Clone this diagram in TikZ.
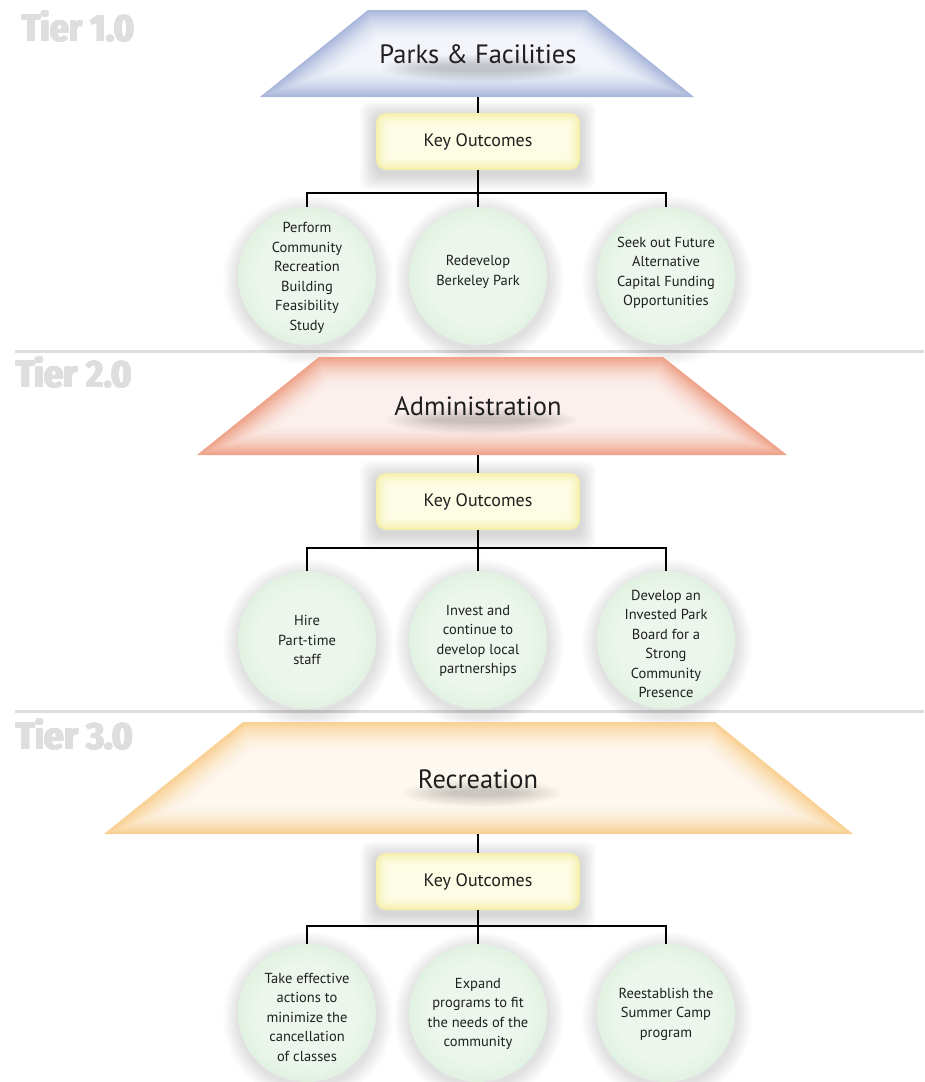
\documentclass[tikz,border=0pt]{standalone}
\usepackage{fontspec}
\usepackage{graphicx}
\setmainfont{PT Sans}
\newfontfamily\tierfont{Fira Sans}

\definecolor{t1edge}{RGB}{170,184,220}
\definecolor{t1mid}{RGB}{243,245,251}
\definecolor{t2edge}{RGB}{239,163,138}
\definecolor{t2mid}{RGB}{251,240,237}
\definecolor{t3edge}{RGB}{249,209,148}
\definecolor{t3mid}{RGB}{253,248,240}
\definecolor{keyedge}{RGB}{244,239,172}
\definecolor{keymid}{RGB}{253,252,228}
\definecolor{orbin}{RGB}{236,246,236}
\definecolor{orbout}{RGB}{186,224,188}
\definecolor{tiergray}{RGB}{222,222,222}
\definecolor{sepgray}{RGB}{220,220,220}

\pgfdeclareradialshading{greenorb}{\pgfpoint{0bp}{0bp}}{color(0bp)=(orbin); color(18bp)=(orbin); color(50bp)=(orbout)}

% #1 yT, #2 yB, #3 xTL, #4 xTR, #5 xBL, #6 xBR, #7 edge colour, #8 centre colour
\newcommand\glowtrap[8]{%
  \fill[#7] (#3,#1) -- (#4,#1) -- (#6,#2) -- (#5,#2) -- cycle;
  \foreach \k in {1,...,16}{%
    \pgfmathsetmacro\gd{2*\k}%
    \pgfmathsetmacro\gH{#2-#1}%
    \pgfmathsetmacro\aL{#3-#5}%
    \pgfmathsetmacro\LL{10*sqrt((\aL/10)^2+(\gH/10)^2)}%
    \pgfmathsetmacro\aR{#6-#4}%
    \pgfmathsetmacro\LR{10*sqrt((\aR/10)^2+(\gH/10)^2)}%
    \pgfmathsetmacro\xtl{#3+\gd*(\LL-\aL)/\gH}%
    \pgfmathsetmacro\xbl{#5+\gd*(\LL+\aL)/\gH}%
    \pgfmathsetmacro\xtr{#4-\gd*(\LR-\aR)/\gH}%
    \pgfmathsetmacro\xbr{#6-\gd*(\LR+\aR)/\gH}%
    \pgfmathtruncatemacro\pct{100*(1-\k/16)^1.8}%
    \fill[#7!\pct!#8] (\xtl,#1+\gd) -- (\xtr,#1+\gd) -- (\xbr,#2-\gd) -- (\xbl,#2-\gd) -- cycle;
  }}

% #1 cx, #2 cy, #3 w, #4 h
\newcommand\glowbox[4]{%
  \foreach \k in {1,...,10}{%
    \pgfmathsetmacro\gs{1.6*\k}%
    \fill[black,opacity=0.015,rounded corners=10pt] (#1-#3/2-\gs,#2-#4/2-\gs+4) rectangle (#1+#3/2+\gs,#2+#4/2+\gs+4);
  }
  \fill[keyedge,rounded corners=10pt] (#1-#3/2,#2-#4/2) rectangle (#1+#3/2,#2+#4/2);
  \foreach \k in {1,...,9}{%
    \pgfmathsetmacro\gi{1.4*\k}%
    \pgfmathsetmacro\gr{max(10-\gi,1)}%
    \pgfmathtruncatemacro\pct{100*(1-\k/9)^1.6}%
    \fill[keyedge!\pct!keymid,rounded corners=\gr pt] (#1-#3/2+\gi,#2-#4/2+\gi) rectangle (#1+#3/2-\gi,#2+#4/2-\gi);
  }}

% soft shadow around an orb
\newcommand\orbshadow[2]{%
  \foreach \k in {1,...,10}{%
    \fill[black,opacity=0.011] (#1+1,#2+4) circle[radius={(69+1.6*\k)*1pt}];
  }}

% soft shadow under a title
\newcommand\titleshadow[3]{%
  \foreach \k in {1,...,10}{%
    \fill[black,opacity=0.02] (#1,#2) ellipse[x radius={(#3-5*\k)*1pt}, y radius={(15-1.2*\k)*1pt}];
  }}

% heavy condensed tier label: the text is set several times with small offsets
% #1 name, #2 x, #3 y, #4 width, #5 text
\newcommand\tierlabel[5]{%
  \foreach \dx/\dy in {0.6/0,1.2/0,1.8/0,0.6/0.6,1.2/0.6,1.8/0.6,0/0.3}{%
    \node[tierlbl] at (#2+\dx,#3+\dy) {\resizebox{#4pt}{31pt}{\tierfont\bfseries #5}};
  }
  \node[tierlbl] (#1) at (#2,#3) {\resizebox{#4pt}{31pt}{\tierfont\bfseries #5}};
}

\begin{document}
\begin{tikzpicture}[x=1pt,y=-1pt,
  conn/.style={line width=1.1pt, black},
  sepline/.style={line width=3pt, sepgray},
  tierlbl/.style={anchor=north west, inner sep=0, text=tiergray},
  titletxt/.style={anchor=base, inner sep=0, font=\fontsize{26.5}{30}\selectfont, text=black!88},
  keylbl/.style={minimum width=204pt, minimum height=57pt, inner sep=0, font=\fontsize{18}{20}\selectfont, text=black!88},
  orb/.style={circle, minimum size=138pt, inner sep=0, shading=greenorb},
  orbtxt/.style={align=center, inner sep=0, font=\fontsize{14.5}{19.5}\selectfont, text=black!88}]

\useasboundingbox (0,0) rectangle (924,1082);
\fill[white] (0,0) rectangle (924,1082);

% tier labels and separators
\tierlabel{L1}{21}{10}{112}{Tier 1.0}
\tierlabel{L2}{15}{356}{116}{Tier 2.0}
\tierlabel{L3}{15}{718}{117}{Tier 3.0}
\draw[sepline] (15,351) -- (924,351);
\draw[sepline] (15,711) -- (924,711);

% ---------- Tier 1 ----------
\glowtrap{10}{97}{368}{586}{260}{694}{t1edge}{t1mid}
\titleshadow{482}{68}{105}
\node[titletxt] (T1) at (478,63) {Parks \& Facilities};
\coordinate (T1b) at (478,97);
\glowbox{478}{141.5}{204}{57}
\node[keylbl] (K1) at (478,141.5) {Key Outcomes};
\orbshadow{307}{276}\orbshadow{478}{276}\orbshadow{666}{276}
\node[orb] (C11) at (307,276) {};
\node[orb] (C12) at (478,276) {};
\node[orb] (C13) at (666,276) {};
\node[orbtxt] at (307,278) {Perform\\Community\\Recreation\\Building\\Feasibility\\Study};
\node[orbtxt] at (478,272) {Redevelop\\Berkeley Park};
\node[orbtxt] at (666,273) {Seek out Future\\Alternative\\Capital Funding\\Opportunities};
\coordinate (J1) at (478,193);
\draw[conn] (T1b) -- (K1.north);
\draw[conn] (K1.south) -- (C12.north);
\draw[conn] (C11.north) |- (J1) -| (C13.north);

% ---------- Tier 2 ----------
\glowtrap{357}{455}{319}{663}{197}{787}{t2edge}{t2mid}
\titleshadow{482}{420}{100}
\node[titletxt] (T2) at (478,415) {Administration};
\coordinate (T2b) at (478,455);
\glowbox{478}{501.5}{204}{57}
\node[keylbl] (K2) at (478,501.5) {Key Outcomes};
\orbshadow{307}{640}\orbshadow{478}{640}\orbshadow{666}{640}
\node[orb] (C21) at (307,640) {};
\node[orb] (C22) at (478,640) {};
\node[orb] (C23) at (666,640) {};
\node[orbtxt] at (307,640) {Hire\\Part-time\\staff};
\node[orbtxt] at (478,641) {Invest and\\continue to\\develop local\\partnerships};
\node[orbtxt] at (666,644) {Develop an\\Invested Park\\Board for a\\Strong\\Community\\Presence};
\coordinate (J2) at (478,548);
\draw[conn] (T2b) -- (K2.north);
\draw[conn] (K2.south) -- (C22.north);
\draw[conn] (C21.north) |- (J2) -| (C23.north);

% ---------- Tier 3 ----------
\glowtrap{722}{834}{243}{715}{104}{853}{t3edge}{t3mid}
\titleshadow{482}{793}{85}
\node[titletxt] (T3) at (478,788) {Recreation};
\coordinate (T3b) at (478,834);
\glowbox{478}{881.5}{204}{57}
\node[keylbl] (K3) at (478,881.5) {Key Outcomes};
\orbshadow{307}{1013}\orbshadow{478}{1013}\orbshadow{666}{1013}
\node[orb] (C31) at (307,1013) {};
\node[orb] (C32) at (478,1013) {};
\node[orb] (C33) at (666,1013) {};
\node[orbtxt] at (307,1017) {Take effective\\actions to\\minimize the\\cancellation\\of classes};
\node[orbtxt] at (478,1014) {Expand\\programs to fit\\the needs of the\\community};
\node[orbtxt] at (666,1014) {Reestablish the\\Summer Camp\\program};
\coordinate (J3) at (478,926);
\draw[conn] (T3b) -- (K3.north);
\draw[conn] (K3.south) -- (C32.north);
\draw[conn] (C31.north) |- (J3) -| (C33.north);
\end{tikzpicture}
\end{document}
